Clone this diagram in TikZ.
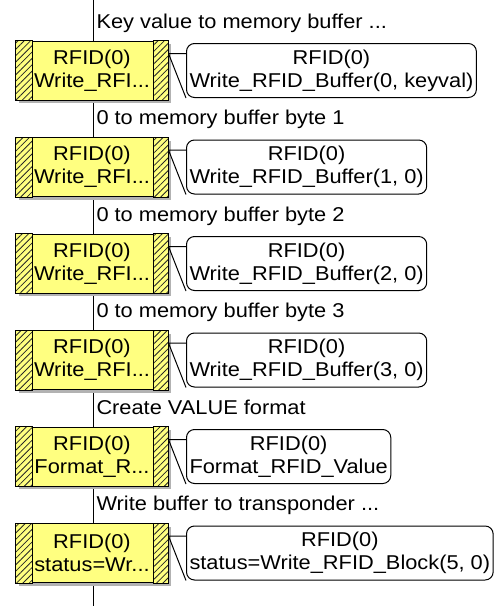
\documentclass[tikz,border=0pt]{standalone}
\usepackage{fontspec}
\setmainfont{Liberation Sans}[FakeStretch=1.09]
\usetikzlibrary{calc,patterns.meta,shadows}
\definecolor{boxyellow}{HTML}{FFFF80}
\newcommand\tdots{...}
\tikzset{
  blk/.style={draw, fill=boxyellow, minimum width=152pt, minimum height=59pt, inner sep=0pt, align=center,
    general shadow={fill=black!30, shadow xshift=3pt, shadow yshift=-3pt}},
  hatch/.style={draw, preaction={fill=boxyellow}, pattern={Lines[angle=45,distance=4.5pt,line width=0.8pt]}, pattern color=black!85},
  call/.style={draw, fill=white, rounded corners=8pt, minimum height=54pt, inner xsep=3pt, inner ysep=0pt, align=center},
  lbl/.style={anchor=base west, inner sep=0pt},
  txt/.style={font=\fontsize{20}{23}\selectfont}}

\begin{document}
\begin{tikzpicture}[x=1pt, y=-1pt, txt, line width=1pt]
  \useasboundingbox (0,0) rectangle (499,606);
  % spine
  \coordinate (top) at (93,0);
  \coordinate (bot) at (93,606);
  \draw (top) -- (bot);
  \foreach \n/\lab/\short/\full [count=\i from 0] in {
      key/{Key value to memory buffer \tdots}/{Write\_RFI\tdots}/{Write\_RFID\_Buffer(0, keyval)},
      one/{0 to memory buffer byte 1}/{Write\_RFI\tdots}/{Write\_RFID\_Buffer(1, 0)},
      two/{0 to memory buffer byte 2}/{Write\_RFI\tdots}/{Write\_RFID\_Buffer(2, 0)},
      three/{0 to memory buffer byte 3}/{Write\_RFI\tdots}/{Write\_RFID\_Buffer(3, 0)},
      fmt/{Create VALUE format}/{Format\_R\tdots}/{Format\_RFID\_Value},
      blk/{Write buffer to transponder \tdots}/{status=Wr\tdots}/{status=Write\_RFID\_Block(5, 0)}}
  {
    \pgfmathsetmacro\ytop{41+96.5*\i}
    \node[lbl] (l\n) at (96,\ytop-13) {\lab};
    \node[blk] (b\n) at (92,\ytop+29.5) {RFID(0)\\\short};
    \draw[hatch] (b\n.north west) rectangle ($(b\n.south west)+(17,0)$);
    \draw[hatch] ($(b\n.north east)+(-15,0)$) rectangle (b\n.south east);
    \node[call, anchor=west] (c\n) at (186,\ytop+29.5) {RFID(0)\\\full};
    \coordinate (p\n) at ($(b\n.north east)+(0,13)$);
    \draw (p\n) -- (p\n -| c\n.west) (p\n) -- (c\n.south west);
  }
\end{tikzpicture}
\end{document}
